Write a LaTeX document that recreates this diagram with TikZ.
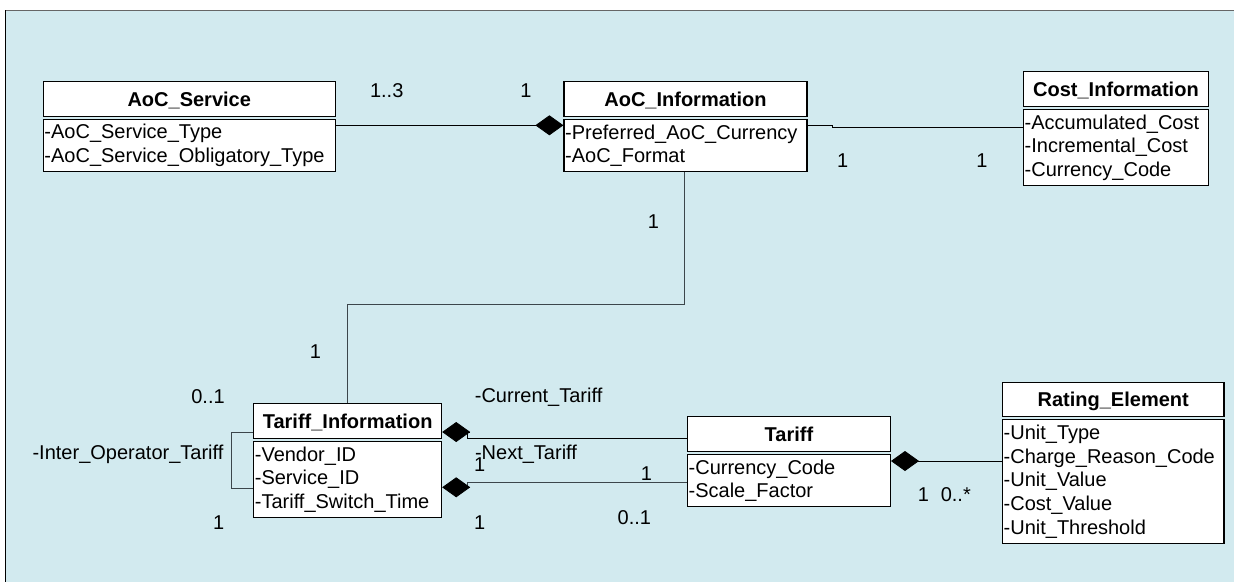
\documentclass[tikz,border=0pt]{standalone}
\usepackage{fontspec}
\setmainfont{Liberation Sans}
\usetikzlibrary{arrows.meta}
\definecolor{bgblue}{RGB}{210,234,239}
\definecolor{lnk}{RGB}{60,70,75}
\newcommand\dfont{\fontsize{20}{23.7}\selectfont}
\tikzset{
  hdr/.style={draw, fill=white, line width=1.1pt, font=\dfont\bfseries, text height=14.3pt, text depth=0pt,
              minimum height=35pt, inner sep=0pt, anchor=north west},
  bodyb/.style={draw, fill=white, line width=1.1pt, align=left, font=\dfont, inner xsep=1.2pt, inner ysep=0pt, anchor=north west},
  lbl/.style={inner sep=0pt, font=\dfont, text height=14.3pt, text depth=0pt},
  conn/.style={line width=0.8pt},
  comp/.style={conn, -{Diamond[length=28pt,width=20pt]}}
}
\begin{document}
\begin{tikzpicture}[x=1pt,y=-1pt]
\useasboundingbox (0,0) rectangle (1234,582);
\fill[bgblue] (5,10) rectangle (1234,582);
\draw[gray!80!black, line width=1.5pt] (5,10.5) -- (1234,10.5);
\draw[black, line width=1.2pt] (5.5,10) -- (5.5,582);

% AoC_Service
\node[hdr, minimum width=292pt] (svc) at (42.7,81) {AoC\_Service};
\node[bodyb, text width=289.6pt, minimum height=52pt] (svcb) at ([yshift=-2pt]svc.south west)
  {-AoC\_Service\_Type\\-AoC\_Service\_Obligatory\_Type};

% AoC_Information
\node[hdr, minimum width=243pt] (info) at (563.4,81) {AoC\_Information};
\node[bodyb, text width=240.6pt, minimum height=52pt] (infob) at ([yshift=-2pt]info.south west)
  {-Preferred\_AoC\_Currency\\-AoC\_Format};

% Cost_Information
\node[hdr, minimum width=185pt] (cost) at (1022.9,71) {Cost\_Information};
\node[bodyb, text width=182.6pt, minimum height=76pt] (costb) at ([yshift=-2pt]cost.south west)
  {-Accumulated\_Cost\\-Incremental\_Cost\\-Currency\_Code};

% Tariff_Information
\node[hdr, minimum width=188pt] (tinfo) at (253.1,403) {Tariff\_Information};
\node[bodyb, text width=185.6pt, minimum height=76pt] (tinfob) at ([yshift=-2pt]tinfo.south west)
  {-Vendor\_ID\\-Service\_ID\\-Tariff\_Switch\_Time};

% Tariff
\node[hdr, minimum width=203pt] (tar) at (686.9,416) {Tariff};
\node[bodyb, text width=200.6pt, minimum height=52pt] (tarb) at ([yshift=-2pt]tar.south west)
  {-Currency\_Code\\-Scale\_Factor};

% Rating_Element
\node[hdr, minimum width=221.5pt, minimum height=34pt] (rat) at (1001.9,382) {Rating\_Element};
\node[bodyb, text width=219.1pt, minimum height=124pt] (ratb) at ([yshift=-2pt]rat.south west)
  {-Unit\_Type\\-Charge\_Reason\_Code\\-Unit\_Value\\-Cost\_Value\\-Unit\_Threshold};

% helper coordinates
\coordinate (c1) at (832.5,125.7);
\coordinate (c2) at (684.9,304);
\coordinate (c3) at (347.2,304);
\coordinate (c4) at (230.9,432);
\coordinate (c5) at (230.9,488);
\coordinate (c6) at (467.8,438.3);
\coordinate (c7) at (467.8,482.7);

% connectors
\draw[comp] (svcb.east |- 0,125.3) -- (infob.west |- 0,125.3);
\draw[conn] (infob.east |- c1) -- (c1) -- ++(0,1.5) -- (costb.west |- 0,127.2);
\draw[conn, lnk, line width=1pt] (infob.south -| c2) -- (c2) -- (c3) -- (tinfo.north -| c3);
\draw[conn, lnk] (tinfo.west |- c4) -- (c4) -- (c5) -- (tinfob.west |- c5);
\draw[conn] (tar.west |- c6) -- (c6) -- (c6 |- 0,432);
\draw[comp] (c6 |- 0,432) -- (tinfo.east |- 0,432);
\draw[conn, lnk] (tarb.west |- c7) -- (c7) -- (c7 |- 0,487.3);
\draw[comp] (c7 |- 0,487.3) -- (tinfob.east |- 0,487.3);
\draw[comp] (ratb.west |- 0,461) -- (tarb.east |- 0,461);

% labels
\node[lbl] (l1) at (386.7,90) {1..3};
\node[lbl] (l2) at (525.9,90) {1};
\node[lbl] (l3) at (842.6,160) {1};
\node[lbl] (l4) at (982,160) {1};
\node[lbl] (l5) at (653.4,221) {1};
\node[lbl] (l6) at (315.5,351) {1};
\node[lbl] (l7) at (208,396) {0..1};
\node[lbl] (l8) at (128,452) {-Inter\_Operator\_Tariff};
\node[lbl] (l9) at (218.7,522) {1};
\node[lbl] (l10) at (538.6,395) {-Current\_Tariff};
\node[lbl] (l11) at (526,452) {-Next\_Tariff};
\node[lbl] (l12) at (479.6,464) {1};
\node[lbl] (l13) at (479.6,522) {1};
\node[lbl] (l14) at (646.5,473) {1};
\node[lbl] (l15) at (634.4,517) {0..1};
\node[lbl] (l16) at (923.4,494) {1};
\node[lbl] (l17) at (955.8,494) {0..*};
\end{tikzpicture}
\end{document}
